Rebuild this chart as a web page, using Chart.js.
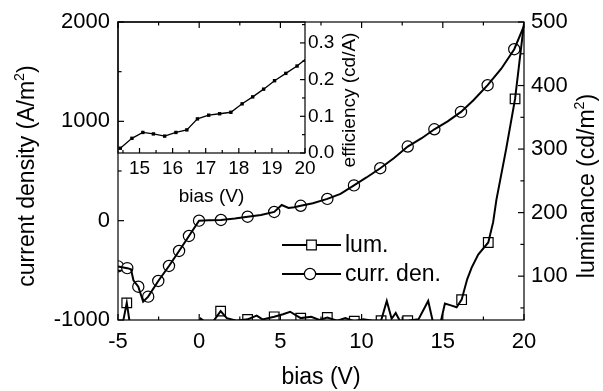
<!DOCTYPE html>
<html lang="en">
<head>
<meta charset="UTF-8" />
<title>Bias sweep: current density, luminance, efficiency</title>
<script src="https://cdn.jsdelivr.net/npm/chart.js"></script>
<style>
  body { margin: 0; background: #fff; }
  .wrap { position: relative; width: 603px; height: 391px; }
  .wrap canvas { position: absolute; left: 0; top: 0; }
</style>
</head>
<body>
<div class="wrap">
  <canvas id="mainChart" width="603" height="391"></canvas>
  <canvas id="insetChart" width="603" height="391"></canvas>
</div>
<script>
// current density (A/m2) against bias (V)
const jBias = [-5, -4.43, -4.2, -4.05, -3.75, -3.45, -3.14, -2.52, -1.86, -1.24, -0.63, -0.01, 0.6, 1.34, 2.2, 2.98, 3.8, 4.62, 5.08, 5.5, 5.85, 6.25, 7.0, 7.89, 8.7, 9.53, 10.3, 11.15, 12.0, 12.84, 13.7, 14.48, 15.3, 16.12, 16.9, 17.76, 18.6, 19.4, 20];
const jValues = [-460, -478, -490, -600, -665, -815, -765, -607, -456, -305, -154, 0, 4, 7, 22, 40, 58, 88, 158, 128, 135, 150, 175, 219, 270, 355, 435, 528, 630, 746, 830, 920, 1000, 1095, 1215, 1364, 1530, 1726, 1960];
// bias points that carry a circle marker
const jMarkBias = [-5, -4.43, -3.75, -3.14, -2.52, -1.86, -1.24, -0.63, -0.01, 1.34, 2.98, 4.62, 6.25, 7.89, 9.53, 11.15, 12.84, 14.48, 16.12, 17.76, 19.4];

// luminance (cd/m2) against bias (V)
const lumBias = [-5, -4.72, -4.46, -4.25, -3.5, -0.1, 0.1, 0.25, 0.5, 0.9, 1.32, 1.7, 2.3, 2.98, 3.54, 3.9, 4.62, 5.16, 5.6, 6.25, 6.9, 7.4, 7.89, 8.5, 9.0, 9.55, 10.1, 10.7, 11.2, 11.55, 11.85, 12.1, 12.35, 12.84, 13.5, 14.1, 14.48, 14.8, 15.13, 15.5, 15.85, 16.16, 16.5, 16.77, 17.18, 17.8, 18.1, 18.3, 18.9, 19.45, 20];
const lumValues = [28, 24, 58, 22, 20, 20, 33, 30, 26, 30, 45, 34, 30, 32, 38, 32, 36, 40, 44, 34, 36, 31, 35, 30, 34, 29, 32, 30, 30, 61, 33, 42, 30, 30, 32, 61, 18, 20, 57, 54, 51, 63, 95, 113, 134, 153, 185, 220, 300, 379, 498];
// bias points that carry a square marker
const lumMarkBias = [-4.46, 1.32, 2.98, 4.62, 6.25, 7.89, 9.55, 11.2, 12.84, 14.48, 16.16, 17.8, 19.45];

// inset: efficiency (cd/A) against bias (V)
const effBias = [14.42, 14.77, 15.1, 15.42, 15.76, 16.1, 16.43, 16.75, 17.09, 17.42, 17.76, 18.1, 18.42, 18.75, 19.08, 19.42, 19.76, 20.1];
const effValues = [0.013, 0.040, 0.056, 0.052, 0.046, 0.056, 0.063, 0.093, 0.103, 0.107, 0.111, 0.134, 0.153, 0.174, 0.197, 0.217, 0.237, 0.262];

// tick labels
const biasTicks = [-5, 0, 5, 10, 15, 20];
const jTicks = [-1000, 0, 1000, 2000];
const lumTicks = [100, 200, 300, 400, 500];
const effBiasTicks = [15, 16, 17, 18, 19, 20];
const effTicks = [0, 0.1, 0.2, 0.3];

const FONT = '"Liberation Sans", Arial, Helvetica, sans-serif';

const pts = (xs, ys) => xs.map((x, i) => ({ x: x, y: ys[i] }));
const marks = (xs, ys, at) => at.map(b => ({ x: b, y: ys[xs.indexOf(b)] }));
const fixTicks = list => scale => { scale.ticks = list.map(v => ({ value: v })); };
const plain = v => String(v);

// inward tick marks plus the closed frame round the plot area
function frameTicks(specs) {
  return {
    id: 'frameTicks',
    afterDatasetsDraw(chart) {
      const { ctx, chartArea: a } = chart;
      ctx.save();
      ctx.strokeStyle = '#000';
      ctx.lineWidth = 1.2;
      ctx.strokeRect(a.left, a.top, a.right - a.left, a.bottom - a.top);
      specs.forEach(s => {
        const sc = chart.scales[s.scale];
        const step = s.major[1] - s.major[0];
        const minor = [];
        s.major.forEach(v => {
          [v - step / 2, v + step / 2].forEach(m => {
            if (m > sc.min && m < sc.max && minor.indexOf(m) < 0 && s.major.indexOf(m) < 0) minor.push(m);
          });
        });
        const tick = (v, len) => {
          const p = sc.getPixelForValue(v);
          s.sides.forEach(side => {
            ctx.beginPath();
            if (side === 'bottom') { ctx.moveTo(p, a.bottom); ctx.lineTo(p, a.bottom - len); }
            if (side === 'top') { ctx.moveTo(p, a.top); ctx.lineTo(p, a.top + len); }
            if (side === 'left') { ctx.moveTo(a.left, p); ctx.lineTo(a.left + len, p); }
            if (side === 'right') { ctx.moveTo(a.right, p); ctx.lineTo(a.right - len, p); }
            ctx.stroke();
          });
        };
        s.major.forEach(v => tick(v, s.len));
        minor.forEach(v => tick(v, s.len * 0.6));
      });
      ctx.restore();
    }
  };
}

// rotated title reading bottom to top, with an optional superscript part
function drawUpTitle(ctx, parts, cx, cy, size) {
  ctx.save();
  ctx.translate(cx, cy);
  ctx.rotate(-Math.PI / 2);
  ctx.fillStyle = '#000';
  ctx.textBaseline = 'middle';
  let total = 0;
  parts.forEach(p => {
    ctx.font = (p.sup ? size * 0.62 : size) + 'px ' + FONT;
    p.w = ctx.measureText(p.t).width;
    total += p.w;
  });
  let x = -total / 2;
  parts.forEach(p => {
    ctx.font = (p.sup ? size * 0.62 : size) + 'px ' + FONT;
    ctx.fillText(p.t, x, p.sup ? -size * 0.36 : 0);
    x += p.w;
  });
  ctx.restore();
}

const mainTitles = {
  id: 'mainTitles',
  afterDraw(chart) {
    const ctx = chart.ctx;
    drawUpTitle(ctx, [{ t: 'current density (A/m' }, { t: '2', sup: true }, { t: ')' }], 28, 176, 23);
    drawUpTitle(ctx, [{ t: 'luminance (cd/m' }, { t: '2', sup: true }, { t: ')' }], 588, 186, 23);

    // legend: line through marker, then the label
    const items = [
      { text: 'lum.', shape: 'rect', y: 245 },
      { text: 'curr. den.', shape: 'circle', y: 274 }
    ];
    ctx.save();
    items.forEach(it => {
      ctx.strokeStyle = '#000';
      ctx.lineWidth = 2;
      ctx.beginPath();
      ctx.moveTo(282, it.y);
      ctx.lineTo(341, it.y);
      ctx.stroke();
      ctx.fillStyle = '#fff';
      ctx.lineWidth = 1.2;
      ctx.beginPath();
      if (it.shape === 'rect') ctx.rect(311.5 - 4.8, it.y - 4.8, 9.6, 9.6);
      else ctx.arc(310, it.y, 5.6, 0, Math.PI * 2);
      ctx.fill();
      ctx.stroke();
      ctx.fillStyle = '#000';
      ctx.font = '23px ' + FONT;
      ctx.textBaseline = 'middle';
      ctx.fillText(it.text, 345, it.y + 1);
    });
    ctx.restore();
  }
};

const tickFont = { family: FONT, size: 22 };

new Chart(document.getElementById('mainChart'), {
  type: 'line',
  data: {
    datasets: [
      { data: pts(lumBias, lumValues), yAxisID: 'yLum', borderColor: '#000', borderWidth: 2, pointRadius: 0, tension: 0 },
      { data: marks(lumBias, lumValues, lumMarkBias), yAxisID: 'yLum', showLine: false, pointStyle: 'rect', pointRadius: 6.8,
        pointBackgroundColor: '#fff', pointBorderColor: '#000', pointBorderWidth: 1.2 },
      { data: pts(jBias, jValues), yAxisID: 'yJ', borderColor: '#000', borderWidth: 2, pointRadius: 0, tension: 0 },
      { data: marks(jBias, jValues, jMarkBias), yAxisID: 'yJ', showLine: false, pointStyle: 'circle', pointRadius: 5.6,
        pointBackgroundColor: '#fff', pointBorderColor: '#000', pointBorderWidth: 1.2 }
    ]
  },
  options: {
    responsive: false,
    animation: false,
    events: [],
    layout: { padding: { top: 22, left: 0, right: 0, bottom: 0 } },
    plugins: { legend: { display: false }, tooltip: { enabled: false } },
    scales: {
      x: {
        type: 'linear', position: 'bottom', min: -5, max: 20,
        afterFit: s => { s.height = 71; },
        afterBuildTicks: fixTicks(biasTicks),
        grid: { display: false, drawTicks: false },
        border: { display: false },
        ticks: { color: '#000', font: tickFont, padding: 9, maxRotation: 0, callback: plain },
        title: { display: true, text: 'bias (V)', color: '#000', font: { family: FONT, size: 23 }, padding: { top: 0, bottom: 0 } }
      },
      yJ: {
        position: 'left', min: -1000, max: 2000,
        afterFit: s => { s.width = 118; },
        afterBuildTicks: fixTicks(jTicks),
        grid: { display: false, drawTicks: false },
        border: { display: false },
        ticks: { color: '#000', font: tickFont, padding: 8, callback: plain }
      },
      yLum: {
        position: 'right', min: 31, max: 500,
        afterFit: s => { s.width = 79; },
        afterBuildTicks: fixTicks(lumTicks),
        grid: { display: false, drawTicks: false },
        border: { display: false },
        ticks: { color: '#000', font: tickFont, padding: 7, callback: plain }
      }
    }
  },
  plugins: [
    frameTicks([
      { scale: 'x', major: biasTicks, sides: ['bottom', 'top'], len: 6 },
      { scale: 'yJ', major: jTicks, sides: ['left'], len: 6 },
      { scale: 'yLum', major: lumTicks, sides: ['right'], len: 6 }
    ]),
    mainTitles
  ]
});

const insetTitles = {
  id: 'insetTitles',
  afterDraw(chart) {
    drawUpTitle(chart.ctx, [{ t: 'efficiency (cd/A)' }], 350, 100, 19);
  }
};

const insetFont = { family: FONT, size: 19 };

new Chart(document.getElementById('insetChart'), {
  type: 'line',
  data: {
    datasets: [
      { data: pts(effBias, effValues), borderColor: '#000', borderWidth: 1.3, tension: 0,
        pointStyle: 'rect', pointRadius: 2.4, pointBackgroundColor: '#000', pointBorderColor: '#000', pointBorderWidth: 0 }
    ]
  },
  options: {
    responsive: false,
    animation: false,
    events: [],
    layout: { padding: { left: 118, top: 22, right: 248, bottom: 178 } },
    plugins: { legend: { display: false }, tooltip: { enabled: false } },
    scales: {
      x: {
        type: 'linear', position: 'bottom', min: 14.35, max: 20,
        afterFit: s => { s.height = 60; },
        afterBuildTicks: fixTicks(effBiasTicks),
        grid: { display: false, drawTicks: false },
        border: { display: false },
        ticks: { color: '#000', font: insetFont, padding: 4, maxRotation: 0, callback: plain },
        title: { display: true, text: 'bias (V)', color: '#000', font: insetFont, padding: { top: 0, bottom: 5 } }
      },
      y: {
        position: 'right', min: 0, max: 0.357,
        afterFit: s => { s.width = 50; },
        afterBuildTicks: fixTicks(effTicks),
        grid: { display: false, drawTicks: false },
        border: { display: false },
        ticks: { color: '#000', font: insetFont, padding: 3, callback: v => v.toFixed(1) }
      }
    }
  },
  plugins: [
    frameTicks([
      { scale: 'x', major: effBiasTicks, sides: ['bottom'], len: 5 },
      { scale: 'y', major: effTicks, sides: ['right'], len: 5 }
    ]),
    insetTitles
  ]
});
</script>
</body>
</html>
